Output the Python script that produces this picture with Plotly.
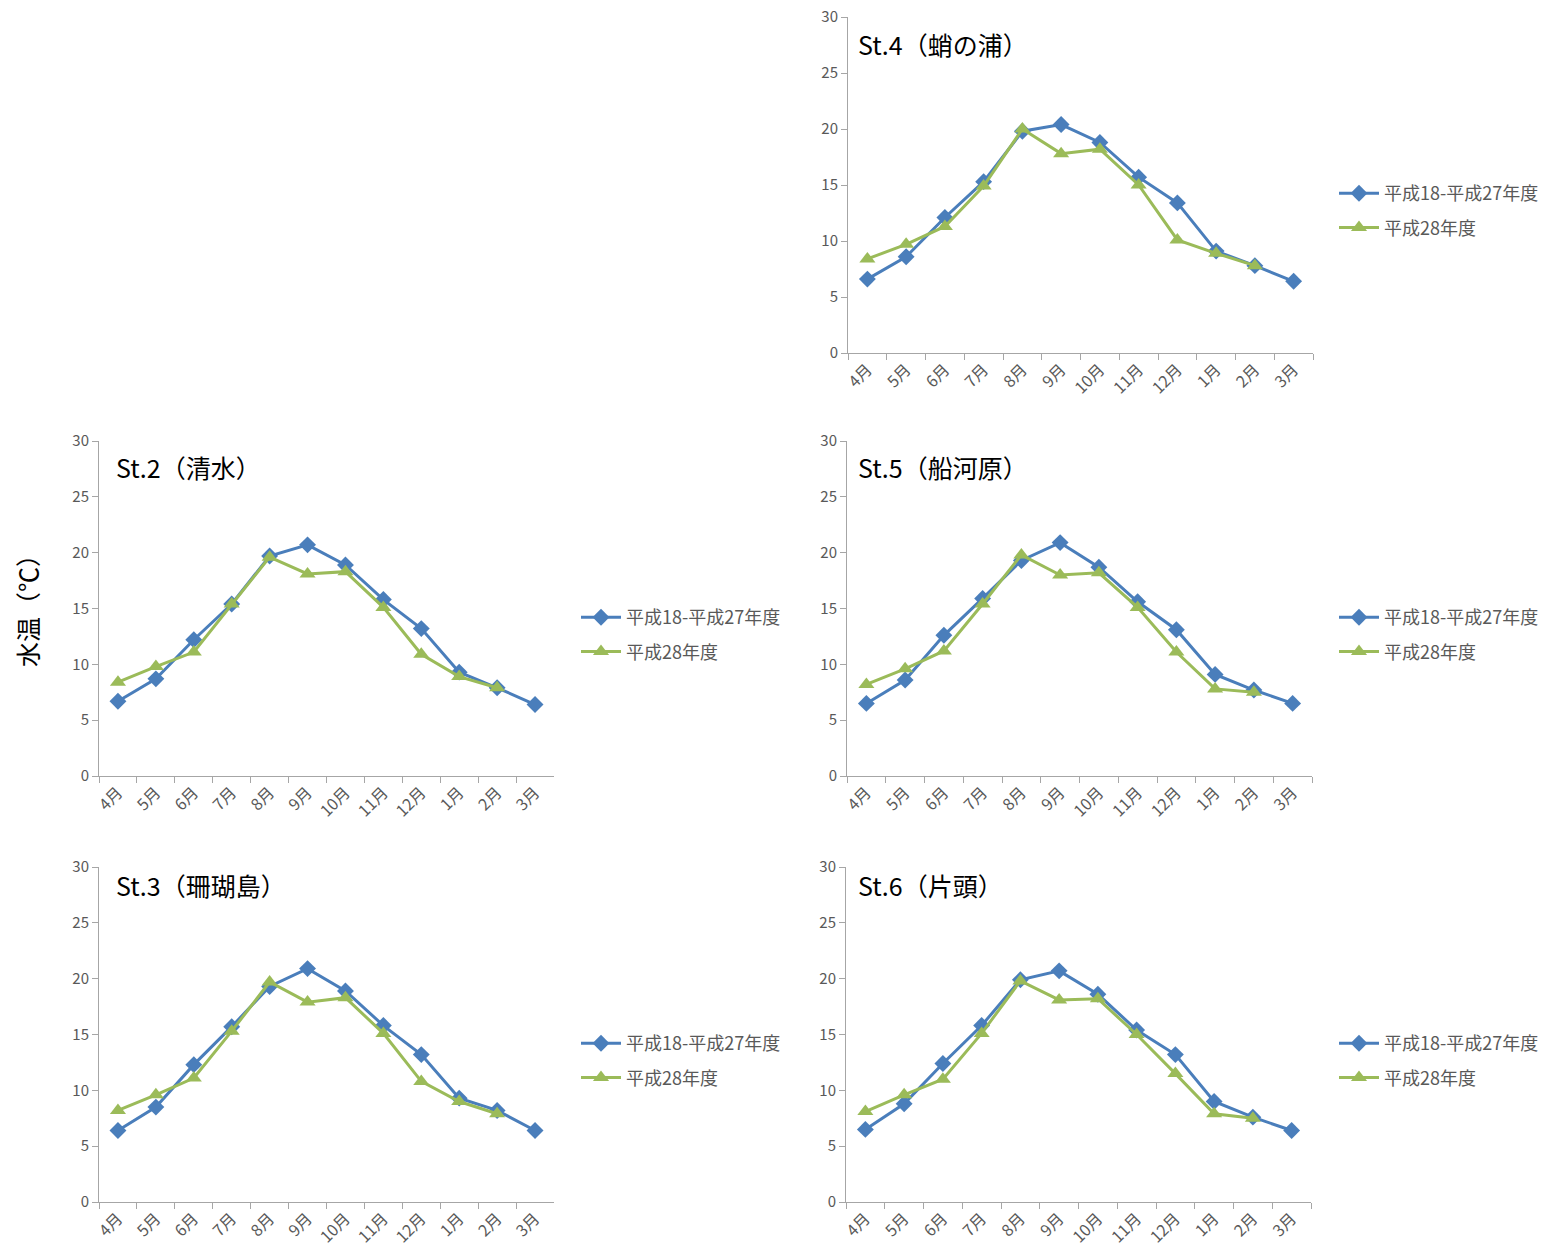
import plotly.graph_objects as go

months = ["4月", "5月", "6月", "7月", "8月", "9月", "10月", "11月", "12月", "1月", "2月", "3月"]
months_cur = months[:11]

series_names = ["平成18-平成27年度", "平成28年度"]

st4_avg = [6.6, 8.6, 12.1, 15.3, 19.8, 20.4, 18.8, 15.7, 13.4, 9.1, 7.8, 6.4]
st4_cur = [8.4, 9.7, 11.3, 14.9, 20.0, 17.8, 18.2, 15.0, 10.1, 8.9, 7.8]

st2_avg = [6.7, 8.7, 12.2, 15.4, 19.7, 20.7, 18.9, 15.8, 13.2, 9.3, 7.9, 6.4]
st2_cur = [8.4, 9.8, 11.1, 15.4, 19.6, 18.1, 18.3, 15.1, 10.9, 8.9, 7.9]

st5_avg = [6.5, 8.6, 12.6, 15.9, 19.3, 20.9, 18.7, 15.6, 13.1, 9.1, 7.7, 6.5]
st5_cur = [8.2, 9.6, 11.2, 15.4, 19.8, 18.0, 18.2, 15.1, 11.1, 7.8, 7.5]

st3_avg = [6.4, 8.5, 12.3, 15.7, 19.3, 20.9, 18.9, 15.8, 13.2, 9.3, 8.2, 6.4]
st3_cur = [8.2, 9.6, 11.1, 15.3, 19.7, 17.9, 18.3, 15.1, 10.8, 9.0, 7.9]

st6_avg = [6.5, 8.8, 12.4, 15.8, 19.9, 20.7, 18.6, 15.4, 13.2, 9.0, 7.6, 6.4]
st6_cur = [8.1, 9.6, 11.0, 15.1, 19.8, 18.1, 18.2, 15.0, 11.5, 7.9, 7.5]

titles = ["St.4（蛸の浦）", "St.2（清水）", "St.5（船河原）", "St.3（珊瑚島）", "St.6（片頭）"]
avg_data = [st4_avg, st2_avg, st5_avg, st3_avg, st6_avg]
cur_data = [st4_cur, st2_cur, st5_cur, st3_cur, st6_cur]

y_ticks = [0, 5, 10, 15, 20, 25, 30]

W, H = 1555, 1253
FONT = "Noto Sans CJK JP"
BLUE = "#4a7ebb"
GREEN = "#9bbb59"
AXIS = "#a6a6a6"
TICKC = "#595959"

# panel plot areas in screen pixels: (x0, x1, ytop, ybottom)
panels = [
    (848, 1313, 17, 353),
    (99, 554, 441, 776),
    (847, 1312, 441, 776),
    (99, 554, 867, 1202),
    (846, 1311, 867, 1202),
]
title_pos = [(856, 44), (114, 467), (856, 467), (114, 885), (856, 885)]
legend_pos = [(1334, 175), (576, 599), (1334, 599), (576, 1025), (1334, 1025)]


def px_x(x):
    return x / W


def px_y(y):
    return 1 - y / H


fig = go.Figure()
layout = dict(
    width=W, height=H,
    margin=dict(l=0, r=0, t=0, b=0, autoexpand=False),
    paper_bgcolor="white", plot_bgcolor="white",
    font=dict(family=FONT, size=15, color=TICKC),
    annotations=[],
)

for i in range(5):
    n = "" if i == 0 else str(i + 1)
    xa, ya = "x" + n, "y" + n
    lg = "legend" if i == 0 else "legend" + str(i + 1)
    fig.add_trace(go.Scatter(
        x=months, y=avg_data[i], name=series_names[0], mode="lines+markers",
        line=dict(color=BLUE, width=3),
        marker=dict(symbol="diamond", size=13, color=BLUE),
        xaxis=xa, yaxis=ya, legend=lg, legendgroup="a%d" % i,
    ))
    fig.add_trace(go.Scatter(
        x=months_cur, y=cur_data[i], name=series_names[1], mode="lines+markers",
        line=dict(color=GREEN, width=3),
        marker=dict(symbol="triangle-up", size=14, color=GREEN),
        xaxis=xa, yaxis=ya, legend=lg, legendgroup="b%d" % i,
    ))
    x0, x1, yt, yb = panels[i]
    layout["xaxis" + n] = dict(
        domain=[px_x(x0), px_x(x1)], anchor=ya,
        type="category", categoryorder="array", categoryarray=months,
        range=[-0.5, 11.5], tickson="boundaries",
        ticks="outside", ticklen=6, tickcolor=AXIS,
        showline=True, linecolor=AXIS, linewidth=1,
        showgrid=False, zeroline=False, tickangle=-45,
        tickfont=dict(family=FONT, size=16, color=TICKC),
        ticklabeloverflow="allow",
        automargin=False, fixedrange=True,
    )
    layout["yaxis" + n] = dict(
        domain=[px_y(yb), px_y(yt)], anchor=xa,
        range=[0, 30], tickvals=y_ticks,
        ticks="outside", ticklen=6, tickcolor=AXIS,
        showline=True, linecolor=AXIS, linewidth=1,
        showgrid=False, zeroline=False,
        tickfont=dict(family=FONT, size=15, color=TICKC),
        ticklabeloverflow="allow",
        automargin=False, fixedrange=True,
    )
    lx, ly = legend_pos[i]
    layout[lg] = dict(
        x=px_x(lx), y=px_y(ly), xanchor="left", yanchor="top",
        font=dict(family=FONT, size=18, color=TICKC),
        bgcolor="rgba(0,0,0,0)", traceorder="grouped", tracegroupgap=8,
        itemwidth=40,
    )
    tx, ty = title_pos[i]
    layout["annotations"].append(dict(
        text=titles[i], x=px_x(tx), y=px_y(ty), xref="paper", yref="paper",
        xanchor="left", yanchor="middle", showarrow=False,
        font=dict(family=FONT, size=25, color="black"),
    ))

layout["annotations"].append(dict(
    text="水温（℃）", x=px_x(27), y=px_y(605), xref="paper", yref="paper",
    xanchor="center", yanchor="middle", showarrow=False, textangle=-90,
    font=dict(family=FONT, size=25, color="black"),
))

fig.update_layout(**layout)
fig.write_html(
    "out.html",
    config={"displayModeBar": False},
    post_script="document.body.style.margin='0';document.body.style.overflow='hidden';",
)
